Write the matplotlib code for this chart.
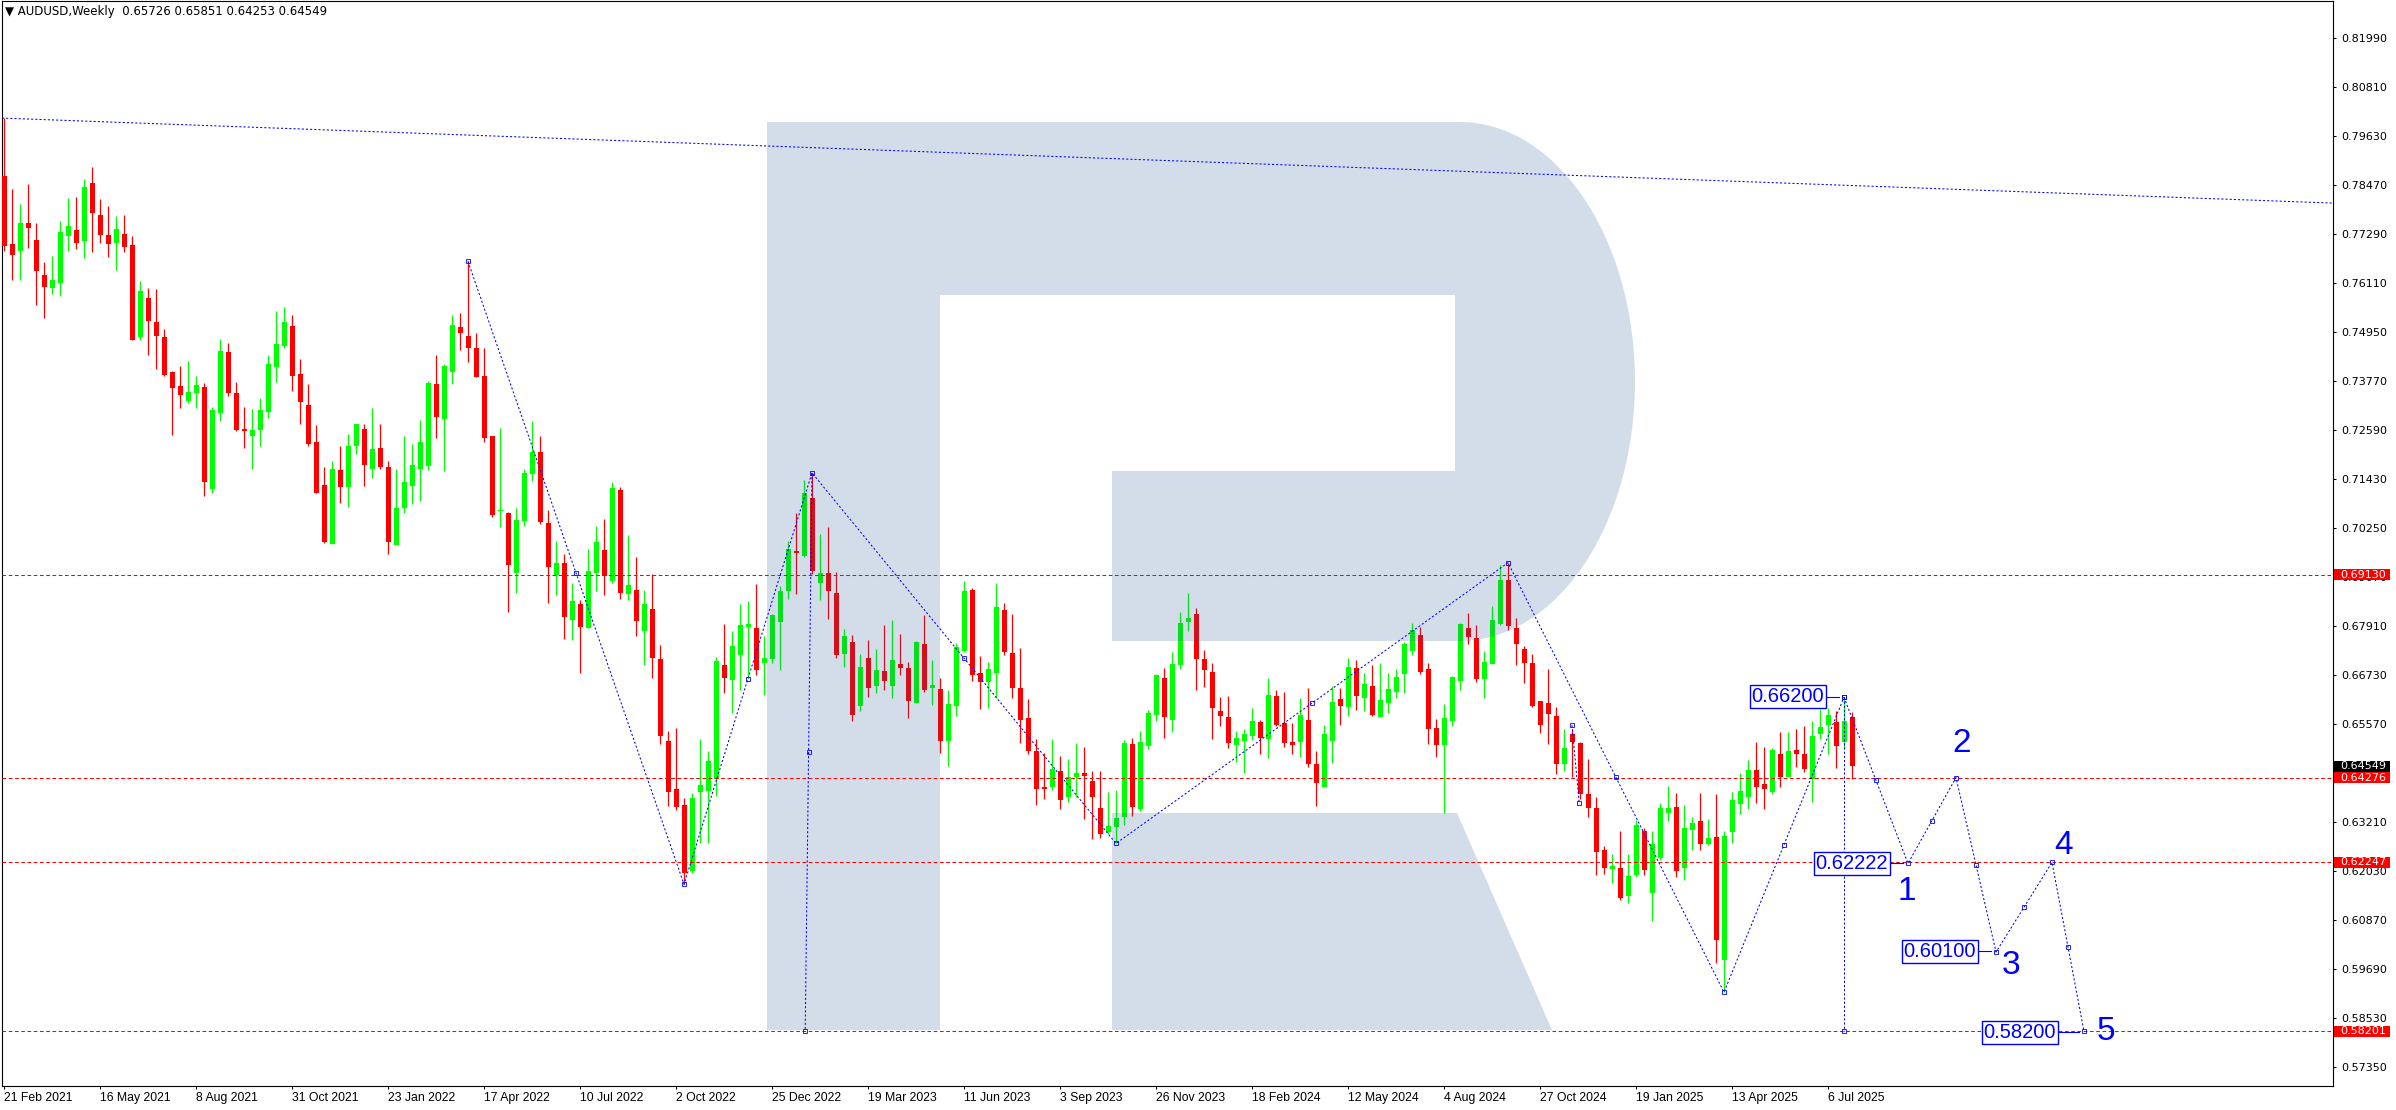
import numpy as np
import matplotlib
matplotlib.use("Agg")
import matplotlib.pyplot as plt
from matplotlib.patches import Polygon, Rectangle

# weekly AUDUSD candles, 21 Feb 2021 .. 27 Jul 2025
opens = [
    0.7868, 0.7705, 0.7689, 0.7755, 0.7714, 0.7631, 0.7600, 0.7612, 0.7725, 0.7738,
    0.7713, 0.7851, 0.7774, 0.7726, 0.7708, 0.7729, 0.7702, 0.7481, 0.7576, 0.7518,
    0.7482, 0.7398, 0.7365, 0.7330, 0.7347, 0.7362, 0.7119, 0.7301, 0.7446, 0.7348,
    0.7260, 0.7246, 0.7260, 0.7303, 0.7411, 0.7460, 0.7508, 0.7393, 0.7319, 0.7230,
    0.7127, 0.6986, 0.7163, 0.7123, 0.7221, 0.7261, 0.7166, 0.7216, 0.7170, 0.6984,
    0.7072, 0.7125, 0.7166, 0.7173, 0.7369, 0.7286, 0.7398, 0.7506, 0.7484, 0.7455,
    0.7388, 0.7245, 0.7066, 0.7062, 0.6917, 0.7042, 0.7154, 0.7208, 0.7036, 0.6913,
    0.6941, 0.6806, 0.6843, 0.6786, 0.6918, 0.6972, 0.6898, 0.7116, 0.6867, 0.6877,
    0.6779, 0.6831, 0.6712, 0.6515, 0.6400, 0.6362, 0.6205, 0.6394, 0.6396, 0.6424,
    0.6697, 0.6662, 0.6720, 0.6787, 0.6786, 0.6702, 0.6712, 0.6801, 0.6875, 0.6968,
    0.6959, 0.7096, 0.6894, 0.6917, 0.6870, 0.6724, 0.6752, 0.6600, 0.6714, 0.6648,
    0.6683, 0.6648, 0.6700, 0.6690, 0.6607, 0.6748, 0.6643, 0.6640, 0.6516, 0.6600,
    0.6731, 0.6877, 0.6678, 0.6657, 0.6679, 0.6829, 0.6726, 0.6642, 0.6570, 0.6491,
    0.6404, 0.6404, 0.6444, 0.6382, 0.6429, 0.6439, 0.6419, 0.6355, 0.6297, 0.6310,
    0.6334, 0.6508, 0.6353, 0.6504, 0.6578, 0.6666, 0.6565, 0.6696, 0.6801, 0.6819,
    0.6712, 0.6680, 0.6587, 0.6573, 0.6506, 0.6516, 0.6526, 0.6561, 0.6521, 0.6623,
    0.6558, 0.6513, 0.6514, 0.6565, 0.6460, 0.6404, 0.6516, 0.6616, 0.6597, 0.6690,
    0.6619, 0.6647, 0.6573, 0.6605, 0.6633, 0.6676, 0.6731, 0.6769, 0.6688, 0.6546,
    0.6506, 0.6564, 0.6660, 0.6786, 0.6762, 0.6664, 0.6700, 0.6796, 0.6901, 0.6786,
    0.6735, 0.6702, 0.6611, 0.6606, 0.6575, 0.6459, 0.6532, 0.6511, 0.6388, 0.6355,
    0.6254, 0.6210, 0.6211, 0.6145, 0.6195, 0.6300, 0.6152, 0.6236, 0.6343, 0.6357,
    0.6212, 0.6301, 0.6324, 0.6269, 0.6285, 0.5992, 0.6298, 0.6365, 0.6381, 0.6446,
    0.6412, 0.6393, 0.6484, 0.6430, 0.6494, 0.6484, 0.6425, 0.6532, 0.6553, 0.6561,
    0.6513, 0.65726]
highs = [
    0.8006, 0.7836, 0.7800, 0.7848, 0.7754, 0.7662, 0.7677, 0.7760, 0.7816, 0.7817,
    0.7860, 0.7889, 0.7812, 0.7796, 0.7772, 0.7774, 0.7724, 0.7616, 0.7599, 0.7597,
    0.7501, 0.7401, 0.7413, 0.7425, 0.7389, 0.7371, 0.7315, 0.7477, 0.7468, 0.7374,
    0.7315, 0.7310, 0.7336, 0.7439, 0.7544, 0.7553, 0.7534, 0.7429, 0.7369, 0.7271,
    0.7170, 0.7185, 0.7221, 0.7249, 0.7275, 0.7275, 0.7312, 0.7273, 0.7185, 0.7166,
    0.7246, 0.7225, 0.7283, 0.7378, 0.7439, 0.7417, 0.7534, 0.7539, 0.7663, 0.7492,
    0.7455, 0.7246, 0.7264, 0.7064, 0.7072, 0.7166, 0.7280, 0.7245, 0.7068, 0.6993,
    0.6963, 0.6893, 0.6853, 0.6975, 0.7030, 0.7047, 0.7135, 0.7123, 0.7008, 0.6956,
    0.6877, 0.6915, 0.6745, 0.6538, 0.6546, 0.6379, 0.6390, 0.6520, 0.6491, 0.6716,
    0.6795, 0.6779, 0.6843, 0.6850, 0.6891, 0.6767, 0.6819, 0.6886, 0.6994, 0.7061,
    0.7140, 0.7157, 0.7011, 0.7028, 0.6920, 0.6783, 0.6769, 0.6724, 0.6757, 0.6736,
    0.6793, 0.6805, 0.6771, 0.6704, 0.6755, 0.6817, 0.6709, 0.6666, 0.6637, 0.6750,
    0.6898, 0.6882, 0.6719, 0.6704, 0.6893, 0.6846, 0.6819, 0.6738, 0.6616, 0.6520,
    0.6487, 0.6520, 0.6479, 0.6472, 0.6510, 0.6501, 0.6443, 0.6443, 0.6393, 0.6398,
    0.6518, 0.6522, 0.6539, 0.6589, 0.6676, 0.6690, 0.6728, 0.6824, 0.6869, 0.6834,
    0.6733, 0.6702, 0.6621, 0.6623, 0.6539, 0.6545, 0.6594, 0.6565, 0.6666, 0.6637,
    0.6633, 0.6558, 0.6618, 0.6642, 0.6491, 0.6553, 0.6647, 0.6642, 0.6714, 0.6709,
    0.6678, 0.6697, 0.6702, 0.6678, 0.6688, 0.6752, 0.6798, 0.6788, 0.6702, 0.6568,
    0.6604, 0.6671, 0.6798, 0.6822, 0.6793, 0.6731, 0.6838, 0.6936, 0.6942, 0.6810,
    0.6743, 0.6723, 0.6611, 0.6688, 0.6597, 0.6544, 0.6544, 0.6514, 0.6471, 0.6381,
    0.6264, 0.6245, 0.6300, 0.6245, 0.6326, 0.6307, 0.6300, 0.6367, 0.6407, 0.6391,
    0.6362, 0.6333, 0.6391, 0.6328, 0.6389, 0.6300, 0.6393, 0.6439, 0.6470, 0.6513,
    0.6502, 0.6498, 0.6537, 0.6537, 0.6544, 0.6551, 0.6563, 0.6592, 0.6594, 0.6587,
    0.6620, 0.65851]
lows = [
    0.7689, 0.7618, 0.7618, 0.7696, 0.7559, 0.7528, 0.7585, 0.7580, 0.7688, 0.7693,
    0.7672, 0.7686, 0.7708, 0.7674, 0.7642, 0.7686, 0.7475, 0.7476, 0.7439, 0.7406,
    0.7390, 0.7247, 0.7313, 0.7325, 0.7313, 0.7102, 0.7110, 0.7282, 0.7342, 0.7258,
    0.7217, 0.7167, 0.7222, 0.7289, 0.7375, 0.7456, 0.7354, 0.7273, 0.7222, 0.7109,
    0.6989, 0.6986, 0.7086, 0.7076, 0.7202, 0.7125, 0.7145, 0.7166, 0.6963, 0.6984,
    0.7061, 0.7082, 0.7090, 0.7163, 0.7241, 0.7161, 0.7369, 0.7451, 0.7422, 0.7386,
    0.7231, 0.7051, 0.7027, 0.6824, 0.6869, 0.7031, 0.7138, 0.7035, 0.6846, 0.6865,
    0.6760, 0.6758, 0.6678, 0.6786, 0.6874, 0.6865, 0.6894, 0.6855, 0.6853, 0.6767,
    0.6696, 0.6667, 0.6509, 0.6360, 0.6351, 0.6172, 0.6200, 0.6270, 0.6270, 0.6384,
    0.6630, 0.6583, 0.6637, 0.6667, 0.6672, 0.6626, 0.6702, 0.6686, 0.6856, 0.6868,
    0.6956, 0.6915, 0.6853, 0.6808, 0.6714, 0.6692, 0.6562, 0.6588, 0.6621, 0.6631,
    0.6638, 0.6617, 0.6674, 0.6571, 0.6605, 0.6633, 0.6602, 0.6487, 0.6456, 0.6576,
    0.6728, 0.6660, 0.6593, 0.6595, 0.6619, 0.6720, 0.6619, 0.6511, 0.6483, 0.6361,
    0.6377, 0.6399, 0.6353, 0.6370, 0.6382, 0.6329, 0.6281, 0.6284, 0.6293, 0.6270,
    0.6313, 0.6336, 0.6348, 0.6497, 0.6563, 0.6522, 0.6537, 0.6688, 0.6779, 0.6638,
    0.6645, 0.6520, 0.6550, 0.6499, 0.6466, 0.6439, 0.6518, 0.6485, 0.6475, 0.6550,
    0.6502, 0.6483, 0.6478, 0.6454, 0.6360, 0.6404, 0.6463, 0.6554, 0.6576, 0.6590,
    0.6588, 0.6576, 0.6573, 0.6583, 0.6617, 0.6631, 0.6722, 0.6676, 0.6509, 0.6478,
    0.6344, 0.6552, 0.6638, 0.6748, 0.6657, 0.6619, 0.6700, 0.6794, 0.6782, 0.6698,
    0.6655, 0.6597, 0.6535, 0.6509, 0.6437, 0.6444, 0.6430, 0.6377, 0.6334, 0.6195,
    0.6198, 0.6176, 0.6135, 0.6128, 0.6190, 0.6195, 0.6085, 0.6231, 0.6324, 0.6190,
    0.6183, 0.6254, 0.6255, 0.6266, 0.5985, 0.5914, 0.6271, 0.6340, 0.6352, 0.6367,
    0.6352, 0.6388, 0.6404, 0.6430, 0.6454, 0.6442, 0.6369, 0.6520, 0.6483, 0.6451,
    0.6498, 0.64253]
closes = [
    0.7701, 0.7679, 0.7755, 0.7744, 0.7639, 0.7603, 0.7619, 0.7733, 0.7748, 0.7708,
    0.7841, 0.7780, 0.7727, 0.7705, 0.7741, 0.7698, 0.7476, 0.7592, 0.7521, 0.7485,
    0.7391, 0.7361, 0.7344, 0.7351, 0.7367, 0.7136, 0.7307, 0.7449, 0.7349, 0.7260,
    0.7258, 0.7260, 0.7307, 0.7418, 0.7465, 0.7518, 0.7388, 0.7326, 0.7225, 0.7109,
    0.6991, 0.7166, 0.7122, 0.7221, 0.7273, 0.7177, 0.7213, 0.7170, 0.6991, 0.7074,
    0.7134, 0.7177, 0.7230, 0.7371, 0.7291, 0.7412, 0.7511, 0.7492, 0.7456, 0.7386,
    0.7241, 0.7056, 0.7067, 0.6936, 0.7043, 0.7156, 0.7206, 0.7039, 0.6932, 0.6941,
    0.6813, 0.6850, 0.6789, 0.6922, 0.6992, 0.6909, 0.7121, 0.6870, 0.6889, 0.6803,
    0.6843, 0.6715, 0.6526, 0.6394, 0.6358, 0.6200, 0.6379, 0.6410, 0.6467, 0.6707,
    0.6667, 0.6743, 0.6793, 0.6795, 0.6686, 0.6714, 0.6817, 0.6874, 0.6975, 0.6966,
    0.7109, 0.6921, 0.6917, 0.6875, 0.6721, 0.6767, 0.6578, 0.6692, 0.6641, 0.6685,
    0.6660, 0.6709, 0.6690, 0.6612, 0.6752, 0.6638, 0.6649, 0.6516, 0.6604, 0.6740,
    0.6874, 0.6672, 0.6657, 0.6688, 0.6836, 0.6729, 0.6643, 0.6566, 0.6492, 0.6401,
    0.6401, 0.6448, 0.6375, 0.6429, 0.6439, 0.6431, 0.6380, 0.6293, 0.6312, 0.6331,
    0.6510, 0.6358, 0.6513, 0.6582, 0.6673, 0.6573, 0.6700, 0.6798, 0.6810, 0.6712,
    0.6684, 0.6595, 0.6576, 0.6511, 0.6522, 0.6532, 0.6563, 0.6523, 0.6625, 0.6554,
    0.6511, 0.6506, 0.6577, 0.6459, 0.6415, 0.6532, 0.6609, 0.6599, 0.6692, 0.6624,
    0.6652, 0.6578, 0.6613, 0.6640, 0.6668, 0.6747, 0.6781, 0.6681, 0.6545, 0.6506,
    0.6570, 0.6668, 0.6795, 0.6763, 0.6664, 0.6704, 0.6805, 0.6901, 0.6791, 0.6748,
    0.6703, 0.6600, 0.6554, 0.6581, 0.6459, 0.6499, 0.6514, 0.6389, 0.6356, 0.6250,
    0.6212, 0.6216, 0.6140, 0.6192, 0.6314, 0.6207, 0.6269, 0.6355, 0.6355, 0.6205,
    0.6307, 0.6319, 0.6269, 0.6283, 0.6040, 0.6288, 0.6374, 0.6396, 0.6446, 0.6405,
    0.6401, 0.6494, 0.6430, 0.6491, 0.6485, 0.6449, 0.6527, 0.6549, 0.6577, 0.6504,
    0.6563, 0.64549]

date_labels = ["21 Feb 2021", "16 May 2021", "8 Aug 2021", "31 Oct 2021", "23 Jan 2022",
               "17 Apr 2022", "10 Jul 2022", "2 Oct 2022", "25 Dec 2022", "19 Mar 2023",
               "11 Jun 2023", "3 Sep 2023", "26 Nov 2023", "18 Feb 2024", "12 May 2024",
               "4 Aug 2024", "27 Oct 2024", "19 Jan 2025", "13 Apr 2025", "6 Jul 2025"]
price_ticks = [0.8199, 0.8081, 0.7963, 0.7847, 0.7729, 0.7611, 0.7495, 0.7377, 0.7259,
               0.7143, 0.7025, 0.6907, 0.6791, 0.6673, 0.6557, 0.6439, 0.6321, 0.6203,
               0.6087, 0.5969, 0.5853, 0.5735]
level_prices = [0.69130, 0.64276, 0.62247, 0.58201]
last_price = 0.64549

# wave markup: swing points (bar index, price) and forecast path
zigzag_x = [58, 85, 101, 139, 188, 215, 230]
zigzag_y = [0.7663, 0.6172, 0.7157, 0.6270, 0.6942, 0.5914, 0.6620]
forecast_x = [230, 238, 244, 249, 256, 260]
forecast_y = [0.6620, 0.62222, 0.64276, 0.60100, 0.62247, 0.58200]
target_labels = ["0.66200", "0.62222", "0.60100", "0.58200"]
wave_labels = ["1", "2", "3", "4", "5"]

W, H = 2396, 1110
X0, X1, Y0, Y1 = 2, 2333, 1, 1086   # chart window in pixels


def px_x(X):
    return (X - 4) / 8.0


def px_y(Y):
    return 0.82888 - Y * 0.00023935


fig = plt.figure(figsize=(W / 100, H / 100), dpi=100)
ax = fig.add_axes([X0 / W, 1 - Y1 / H, (X1 - X0) / W, (Y1 - Y0) / H])
ax.set_xlim(px_x(X0), px_x(X1))
ax.set_ylim(px_y(Y1), px_y(Y0))
for s in ax.spines.values():
    s.set_linewidth(0.8)
    s.set_color("black")

# candles
o, h, l, c = map(np.array, (opens, highs, lows, closes))
idx = np.arange(len(o))
col = np.where(c >= o, "#00ff00", "#ff0000")
ax.vlines(idx, l, h, colors=col, lw=0.9, zorder=2)
ax.bar(idx, np.maximum(np.abs(c - o), 0.0003), bottom=np.minimum(o, c), width=0.625,
       color=col, lw=0, zorder=3)

# watermark "R" (drawn translucent over the candles)
t = np.linspace(-np.pi / 2, np.pi / 2, 80)
arc = [(1460 + 175 * np.cos(a), 381.5 + 259.5 * np.sin(a)) for a in t]
outer = [(767, 122)] + arc + [(1112, 641), (1112, 471), (1455, 471), (1455, 295),
                              (940, 295), (940, 1030), (767, 1030)]
leg = [(1112, 813), (1457, 813), (1552, 1030), (1112, 1030)]
for shape in (outer, leg):
    ax.add_patch(Polygon([(px_x(a), px_y(b)) for a, b in shape], closed=True,
                         fc=(0.15, 0.35, 0.6), alpha=0.2, lw=0, zorder=4))

blue = "#0000ff"
dot = (0, (2, 2))
ax.axline((0, 0.8006), (290.75, 0.7803), color=blue, lw=0.75, ls=dot, zorder=5)
for lvl in level_prices:
    ax.axhline(lvl, color="red", lw=0.75, ls=(0, (3.5, 2.5)), zorder=5)

ax.plot(zigzag_x, zigzag_y, color=blue, lw=0.75, ls=dot, zorder=6)
ax.plot(forecast_x, forecast_y, color=blue, lw=0.75, ls=dot, zorder=6)
ax.plot([101, 100.15], [0.7157, 0.5820], color=blue, lw=0.75, ls=dot, zorder=6)
ax.plot([230, 230], [0.6620, 0.5820], color=blue, lw=0.75, ls=dot, zorder=6)
ax.plot([196, 196.9], [0.6553, 0.6367], color=blue, lw=0.75, ls=dot, zorder=6)

# little anchor squares at ends and middles of the segments
mk = dict(marker="s", ms=2.8, mfc="none", mec=blue, mew=0.6, ls="none", zorder=7)
for xs, ys in ((zigzag_x, zigzag_y), (forecast_x, forecast_y)):
    ax.plot(xs, ys, **mk)
    ax.plot((np.array(xs[:-1]) + xs[1:]) / 2, (np.array(ys[:-1]) + ys[1:]) / 2, **mk)
ax.plot([100.15, 100.6, 230, 196, 196.9], [0.5820, 0.6489, 0.5820, 0.6553, 0.6367], **mk)

# target boxes and wave numbers
box_pos = [(223, 0.6621), (231, 0.6223), (242, 0.6012), (252, 0.5818)]
box_link = [(227.6, 229.4), (235.8, 237.4), (246.9, 248.4), (256.8, 259.4)]
for (bx, by), txt, (xa, xb) in zip(box_pos, target_labels, box_link):
    ax.text(bx, by, txt, ha="center", va="center", color=blue, fontsize=14.5,
            family="Liberation Sans", zorder=8,
            bbox=dict(boxstyle="square,pad=0.1", fc="white", ec=blue, lw=1.0))
    ax.plot([xa, xb], [by, by], color=blue, lw=0.8, zorder=7)
num_pos = [(237.9, 0.6156), (244.75, 0.6510), (250.9, 0.5977), (257.5, 0.6264), (262.75, 0.5821)]
for (nx, ny), txt in zip(num_pos, wave_labels):
    ax.text(nx, ny, txt, ha="center", va="center", color=blue, fontsize=24,
            family="Liberation Sans", zorder=8)

# price scale on the right
ax.yaxis.tick_right()
ax.set_yticks(price_ticks)
ax.set_yticklabels([f"{v:.5f}" for v in price_ticks], fontsize=8, family="DejaVu Sans")
ax.tick_params(axis="y", length=2.2, width=0.75, pad=3.5, direction="out")

# time scale
ax.set_xticks(range(0, 12 * len(date_labels), 12))
ax.set_xticklabels(date_labels, fontsize=8.8, family="Liberation Sans")
plt.setp(ax.get_xticklabels(), ha="left")
ax.tick_params(axis="x", length=2.2, width=0.75, pad=2.0, direction="out")

# coloured price tags over the scale
ax2 = fig.add_axes([X1 / W, 1 - Y1 / H, (W - X1) / W, (Y1 - Y0) / H])
ax2.set_xlim(X1, W)
ax2.set_ylim(px_y(Y1), px_y(Y0))
ax2.axis("off")
hh = 5.6 * 0.00023935
tags = [(p, "red") for p in level_prices] + [(last_price, "black")]
for p, fc in tags:
    ax2.add_patch(Rectangle((2334, p - hh), 56, 2 * hh, fc=fc, lw=0, clip_on=False))
    ax2.text(2340, p, f"{p:.5f}", color="white", fontsize=8, family="DejaVu Sans",
             ha="left", va="center", clip_on=False)

fig.text(5 / W, 1 - 11 / H, "\u25bc AUDUSD,Weekly  0.65726 0.65851 0.64253 0.64549",
         fontsize=8.5, family="DejaVu Sans", ha="left", va="center")

fig.savefig("out.png", dpi=100)
